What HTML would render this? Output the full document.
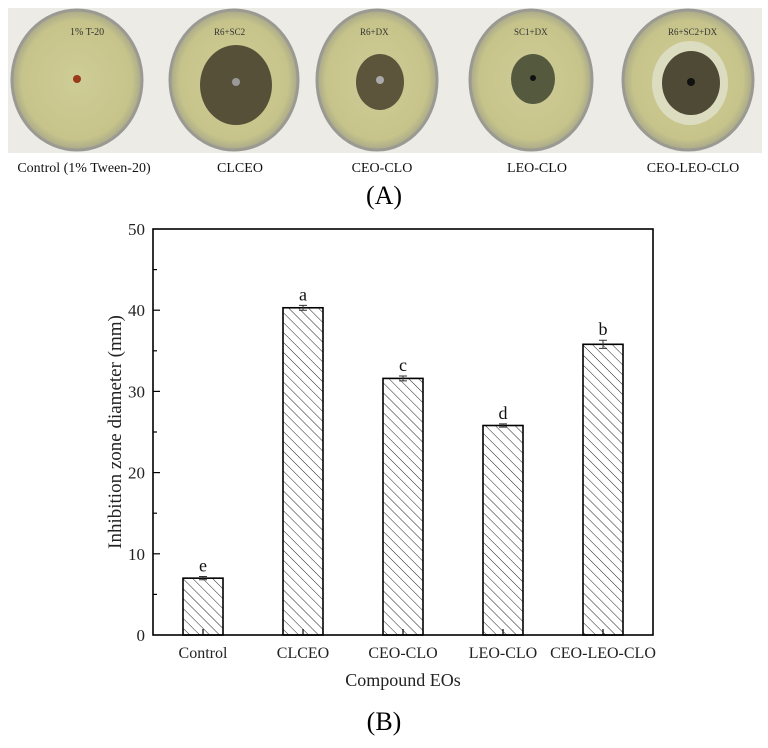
<!DOCTYPE html>
<html><head><meta charset="utf-8"><style>
body{margin:0;background:#fff;width:768px;height:743px;overflow:hidden;font-family:"Liberation Serif",serif;}
</style></head><body>
<svg width="768" height="743" viewBox="0 0 768 743" xmlns="http://www.w3.org/2000/svg" font-family="Liberation Serif, serif">
<defs>
<pattern id="hatch" patternUnits="userSpaceOnUse" width="7" height="7" patternTransform="rotate(-45)">
<line x1="0" y1="0" x2="0" y2="7" stroke="#222" stroke-width="1"/>
</pattern>
<radialGradient id="agar" cx="50%" cy="50%" r="50%">
<stop offset="0%" stop-color="#cfcd97"/><stop offset="85%" stop-color="#c6c48a"/><stop offset="100%" stop-color="#a9a88a"/>
</radialGradient>
</defs>
<g>
<rect x="8" y="8" width="754" height="145" fill="#ecebe6"/>
<g><ellipse cx="77" cy="80" rx="65" ry="70" fill="url(#agar)" stroke="#9a9a92" stroke-width="3"/><circle cx="77" cy="79" r="4" fill="#9a3a1a"/><text x="70" y="35" font-size="10" fill="#333">1% T-20</text></g>
<g><ellipse cx="234" cy="80" rx="64" ry="70" fill="url(#agar)" stroke="#9a9a92" stroke-width="3"/><ellipse cx="236" cy="85" rx="36" ry="40" fill="#575038"/><circle cx="236" cy="82" r="4" fill="#999"/><text x="214" y="35" font-size="9" fill="#333">R6+SC2</text></g>
<g><ellipse cx="377" cy="80" rx="60" ry="70" fill="url(#agar)" stroke="#9a9a92" stroke-width="3"/><ellipse cx="380" cy="82" rx="24" ry="28" fill="#5c553b"/><circle cx="380" cy="80" r="4" fill="#aaa"/><text x="360" y="35" font-size="9" fill="#333">R6+DX</text></g>
<g><ellipse cx="531" cy="80" rx="61" ry="70" fill="url(#agar)" stroke="#9a9a92" stroke-width="3"/><ellipse cx="533" cy="79" rx="22" ry="25" fill="#555a3f"/><circle cx="533" cy="78" r="3" fill="#111"/><text x="514" y="35" font-size="9" fill="#333">SC1+DX</text></g>
<g><ellipse cx="688" cy="80" rx="65" ry="70" fill="url(#agar)" stroke="#9a9a92" stroke-width="3"/><ellipse cx="690" cy="83" rx="38" ry="42" fill="#dcdcc0"/><ellipse cx="691" cy="83" rx="29" ry="32" fill="#4e4a36"/><circle cx="691" cy="82" r="4" fill="#111"/><text x="668" y="35" font-size="9" fill="#333">R6+SC2+DX</text></g>
</g>
<g font-size="14" text-anchor="middle" fill="#111">
<text x="84" y="172">Control (1% Tween-20)</text>
<text x="240" y="172">CLCEO</text>
<text x="382" y="172">CEO-CLO</text>
<text x="537" y="172">LEO-CLO</text>
<text x="693" y="172">CEO-LEO-CLO</text>
</g>
<text x="384" y="204" font-size="26" text-anchor="middle">(A)</text>
<g id="chart"></g>
<text x="384" y="730" font-size="26" text-anchor="middle">(B)</text>
</svg>
<script>
const categories=["Control","CLCEO","CEO-CLO","LEO-CLO","CEO-LEO-CLO"];
const values=[7.0,40.3,31.6,25.8,35.8];
const errors=[0.2,0.3,0.3,0.2,0.5];
const letters=["e","a","c","d","b"];
const yTicks=[0,10,20,30,40,50];
const NS="http://www.w3.org/2000/svg";
const g=document.getElementById('chart');
const L=153,R=653,T=229,B=635,yMax=50;
const y=v=>B-(v/yMax)*(B-T);
const band=(R-L)/categories.length;
const x=i=>L+band*(i+0.5);
function mk(t,a,p){const e=document.createElementNS(NS,t);for(const k in a)e.setAttribute(k,a[k]);(p||g).appendChild(e);return e;}
for(let v=5;v<50;v+=5){const l=mk('line',{x1:L,x2:L+(v%10?4:7),y1:y(v),y2:y(v),stroke:'#000','stroke-width':1.2});

}
yTicks.forEach(v=>{const t=mk('text',{x:L-8,y:y(v)+6,'font-size':17,'text-anchor':'end',fill:'#222'});t.textContent=v;

});
categories.forEach((c,i)=>{
const w=40,top=y(values[i]);
const r=mk('rect',{x:x(i)-w/2,y:top,width:w,height:B-top,fill:'url(#hatch)',stroke:'#000','stroke-width':1.6});


const tk=mk('line',{x1:x(i),x2:x(i),y1:B,y2:B-6,stroke:'#000','stroke-width':1.2});


const e1=y(values[i]+errors[i]),e2=y(values[i]-errors[i]);
const eb=mk('path',{d:`M${x(i)},${e1}V${e2}M${x(i)-4},${e1}H${x(i)+4}M${x(i)-4},${e2}H${x(i)+4}`,stroke:'#333','stroke-width':1,fill:'none'});


const lt=mk('text',{x:x(i),y:e1-5,'font-size':18,'text-anchor':'middle',fill:'#111'});lt.textContent=letters[i];


const xl=mk('text',{x:x(i),y:B+23,'font-size':16,'text-anchor':'middle',fill:'#222'});xl.textContent=c;


});
const fr=mk('rect',{x:L,y:T,width:R-L,height:B-T,fill:'none',stroke:'#000','stroke-width':1.6});


const xt=mk('text',{x:(L+R)/2,y:686,'font-size':18,'text-anchor':'middle',fill:'#222'});xt.textContent='Compound EOs';


const yt=mk('text',{x:0,y:0,'font-size':19,'text-anchor':'middle',fill:'#222',transform:`translate(121,${(T+B)/2}) rotate(-90)`});yt.textContent='Inhibition zone diameter (mm)';


</script>
</body></html>
